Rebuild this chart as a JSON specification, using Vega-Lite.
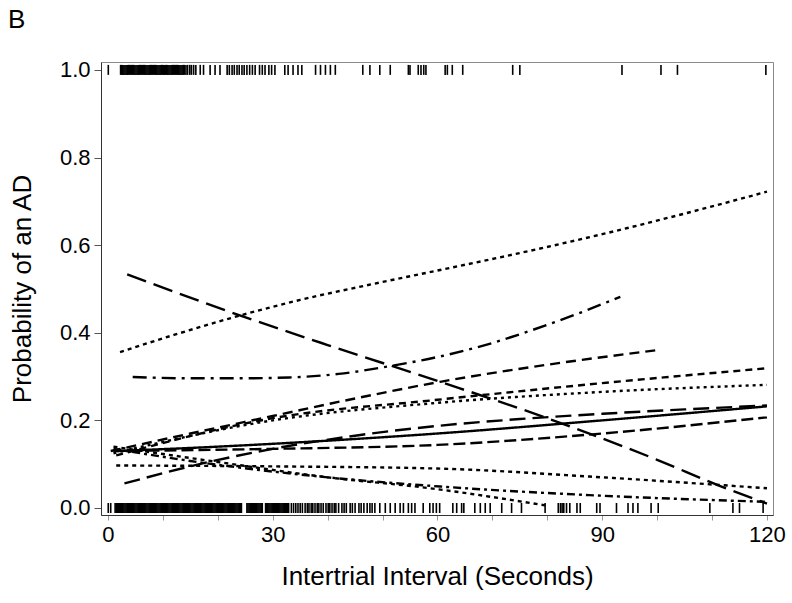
{
  "$schema": "https://vega.github.io/schema/vega-lite/v6.json",
  "autosize": {"type": "none"},
  "padding": {"left": 101, "top": 62, "right": 19, "bottom": 88},
  "width": 672,
  "height": 453,
  "background": "white",
  "config": {
    "view": {"stroke": "#8a8a8a", "strokeWidth": 1},
    "font": "Liberation Sans"
  },
  "title": {"text": "B", "anchor": "start", "frame": "group", "dx": -93, "offset": 26, "fontSize": 26, "fontWeight": "normal", "font": "Liberation Sans", "color": "black"},
  "datasets": {
    "rugBottom": [
      {"t":0.05},{"t":0.5},
      {"t":1.3},{"t":1.5},{"t":1.7},{"t":1.9},{"t":2.1},{"t":2.3},{"t":2.5},{"t":2.7},{"t":2.9},{"t":3.1},{"t":3.3},{"t":3.5},{"t":3.7},{"t":3.9},{"t":4.1},{"t":4.3},{"t":4.5},{"t":4.7},{"t":4.9},{"t":5.1},{"t":5.3},{"t":5.5},{"t":5.7},{"t":5.9},{"t":6.1},{"t":6.3},{"t":6.5},{"t":6.7},{"t":6.9},{"t":7.1},{"t":7.3},{"t":7.5},{"t":7.7},{"t":7.9},{"t":8.1},{"t":8.3},{"t":8.5},{"t":8.7},{"t":8.9},{"t":9.1},{"t":9.3},{"t":9.5},{"t":9.7},{"t":9.9},{"t":10.1},{"t":10.3},{"t":10.5},{"t":10.7},{"t":10.9},{"t":11.1},{"t":11.3},{"t":11.5},{"t":11.7},{"t":11.9},{"t":12.1},{"t":12.3},{"t":12.5},{"t":12.7},{"t":12.9},{"t":13.1},{"t":13.3},{"t":13.5},{"t":13.7},{"t":13.9},{"t":14.1},{"t":14.3},{"t":14.5},{"t":14.7},{"t":14.9},{"t":15.1},{"t":15.3},{"t":15.5},{"t":15.7},{"t":15.9},{"t":16.1},{"t":16.3},{"t":16.5},{"t":16.7},{"t":16.9},{"t":17.1},{"t":17.3},{"t":17.5},{"t":17.7},{"t":17.9},{"t":18.1},{"t":18.3},{"t":18.5},{"t":18.7},{"t":18.9},{"t":19.1},{"t":19.3},{"t":19.5},{"t":19.7},{"t":19.9},{"t":20.1},{"t":20.3},{"t":20.5},{"t":20.7},{"t":20.9},{"t":21.1},{"t":21.3},{"t":21.5},{"t":21.7},{"t":21.9},{"t":22.1},{"t":22.3},{"t":22.5},{"t":22.7},{"t":22.9},{"t":23.1},{"t":23.3},{"t":23.5},{"t":23.7},{"t":23.9},{"t":24.1},{"t":24.3},
      {"t":25.3},{"t":25.5},{"t":25.7},{"t":25.9},{"t":26.1},{"t":26.3},{"t":26.5},{"t":26.7},{"t":26.9},{"t":27.1},{"t":27.3},{"t":27.5},{"t":27.7},{"t":27.9},{"t":28.1},
      {"t":28.7},{"t":28.9},{"t":29.1},{"t":29.3},{"t":29.5},{"t":29.7},{"t":29.9},{"t":30.1},{"t":30.3},{"t":30.5},{"t":30.7},{"t":30.9},{"t":31.1},{"t":31.3},{"t":31.5},{"t":31.7},{"t":31.9},{"t":32.1},{"t":32.3},{"t":32.5},{"t":32.7},{"t":32.9},
      {"t":33.4},{"t":33.8},{"t":34.2},{"t":34.6},{"t":35.0},{"t":35.4},{"t":35.9},{"t":36.3},{"t":36.6},{"t":37.0},{"t":37.3},{"t":37.7},{"t":38.1},{"t":38.4},{"t":38.8},{"t":39.2},{"t":39.7},{"t":40.1},{"t":40.4},{"t":40.8},{"t":41.2},{"t":41.5},{"t":42.0},{"t":42.6},{"t":43.0},{"t":43.4},{"t":44.1},{"t":44.5},{"t":45.0},{"t":45.7},{"t":46.1},{"t":46.6},{"t":47.2},{"t":47.7},{"t":48.1},
      {"t":48.6},{"t":49.5},{"t":50.5},{"t":51.4},{"t":52.3},{"t":53.2},{"t":53.8},{"t":54.7},{"t":55.3},{"t":55.9},{"t":57.4},{"t":58.6},{"t":59.2},{"t":59.8},{"t":60.4},{"t":62.8},{"t":63.5},{"t":64.4},{"t":64.8},{"t":66.8},{"t":67.8},{"t":68.7},{"t":69.6},{"t":71.7},{"t":73.5},{"t":75.3},{"t":79.6},{"t":82.0},{"t":82.4},{"t":82.7},{"t":83.0},{"t":83.5},{"t":84.1},{"t":85.4},{"t":86.0},{"t":89.0},{"t":89.6},{"t":92.6},{"t":94.7},{"t":95.6},{"t":96.5},{"t":98.9},{"t":100.2},{"t":109.6},{"t":113.8},{"t":115.0},{"t":119.3}
    ],
    "rugTop": [
      {"t":0.06},
      {"t":2.3},{"t":2.5},{"t":2.7},{"t":2.9},{"t":3.1},{"t":3.3},{"t":3.5},{"t":3.7},{"t":3.9},{"t":4.1},{"t":4.3},{"t":4.5},{"t":4.7},{"t":4.9},{"t":5.1},{"t":5.3},{"t":5.5},{"t":5.7},{"t":5.9},{"t":6.1},{"t":6.3},{"t":6.5},{"t":6.7},{"t":6.9},{"t":7.1},{"t":7.3},{"t":7.5},{"t":7.7},{"t":7.9},{"t":8.1},{"t":8.3},{"t":8.5},{"t":8.7},{"t":8.9},{"t":9.1},{"t":9.3},{"t":9.5},{"t":9.7},{"t":9.9},{"t":10.1},{"t":10.3},{"t":10.5},{"t":10.7},{"t":10.9},{"t":11.1},{"t":11.3},{"t":11.5},{"t":11.7},{"t":11.9},{"t":12.1},{"t":12.3},{"t":12.5},{"t":12.7},{"t":12.9},{"t":13.1},{"t":13.3},{"t":13.5},{"t":13.7},
      {"t":13.9},{"t":14.2},{"t":14.5},{"t":14.9},{"t":15.2},{"t":15.6},{"t":16.0},
      {"t":16.8},{"t":17.4},{"t":18.6},{"t":19.5},{"t":20.4},
      {"t":21.7},{"t":22.1},{"t":22.6},{"t":23.0},{"t":23.5},{"t":23.9},{"t":24.4},{"t":24.8},{"t":25.3},{"t":25.8},{"t":26.3},{"t":26.8},
      {"t":27.6},{"t":28.1},{"t":28.6},{"t":29.3},{"t":29.8},{"t":30.4},
      {"t":32.2},{"t":32.8},{"t":33.7},{"t":34.6},{"t":35.3},
      {"t":37.8},{"t":38.7},{"t":39.6},{"t":40.5},{"t":41.4},
      {"t":46.4},{"t":47.7},{"t":49.5},{"t":51.4},
      {"t":54.7},{"t":55.0},{"t":56.5},{"t":57.0},{"t":57.5},{"t":57.9},{"t":61.4},{"t":61.8},{"t":62.7},{"t":64.6},{"t":73.7},{"t":75.0},{"t":93.6},{"t":100.7},{"t":103.7},{"t":119.8}
    ],
    "curves": [
      {"id":"A","t":2.2,"p":0.356},{"id":"A","t":12,"p":0.395},{"id":"A","t":22.8,"p":0.435},{"id":"A","t":35,"p":0.475},{"id":"A","t":47,"p":0.508},{"id":"A","t":60,"p":0.542},{"id":"A","t":75,"p":0.582},{"id":"A","t":90,"p":0.625},{"id":"A","t":105,"p":0.672},{"id":"A","t":120,"p":0.722},
      {"id":"B","t":4.5,"p":0.299},{"id":"B","t":15,"p":0.296},{"id":"B","t":24,"p":0.296},{"id":"B","t":33,"p":0.298},{"id":"B","t":42,"p":0.306},{"id":"B","t":51.4,"p":0.324},{"id":"B","t":60.5,"p":0.346},{"id":"B","t":69,"p":0.373},{"id":"B","t":77,"p":0.405},{"id":"B","t":85,"p":0.441},{"id":"B","t":93.3,"p":0.482},
      {"id":"C","t":0.5,"p":0.13},{"id":"C","t":15,"p":0.17},{"id":"C","t":30,"p":0.21},{"id":"C","t":45,"p":0.25},{"id":"C","t":60.5,"p":0.288},{"id":"C","t":80,"p":0.327},{"id":"C","t":100.5,"p":0.361},
      {"id":"D","t":3.5,"p":0.533},{"id":"D","t":22.8,"p":0.445},{"id":"D","t":40,"p":0.372},{"id":"D","t":60,"p":0.29},{"id":"D","t":80,"p":0.205},{"id":"D","t":100,"p":0.11},{"id":"D","t":111.5,"p":0.05},{"id":"D","t":120,"p":0.01},
      {"id":"E","t":1.6,"p":0.13},{"id":"E","t":20,"p":0.14},{"id":"E","t":35,"p":0.15},{"id":"E","t":60,"p":0.17},{"id":"E","t":90,"p":0.2},{"id":"E","t":120,"p":0.232},
      {"id":"F","t":3,"p":0.056},{"id":"F","t":18,"p":0.104},{"id":"F","t":30,"p":0.135},{"id":"F","t":45,"p":0.165},{"id":"F","t":60.5,"p":0.188},{"id":"F","t":75,"p":0.203},{"id":"F","t":90,"p":0.215},{"id":"F","t":105,"p":0.225},{"id":"F","t":120,"p":0.234},
      {"id":"G","t":1,"p":0.13},{"id":"G","t":30,"p":0.135},{"id":"G","t":60,"p":0.144},{"id":"G","t":90,"p":0.17},{"id":"G","t":120,"p":0.207},
      {"id":"H","t":1.5,"p":0.097},{"id":"H","t":30,"p":0.095},{"id":"H","t":60,"p":0.09},{"id":"H","t":90,"p":0.07},{"id":"H","t":120,"p":0.045},
      {"id":"I","t":1,"p":0.125},{"id":"I","t":30,"p":0.2},{"id":"I","t":60,"p":0.24},{"id":"I","t":90,"p":0.265},{"id":"I","t":120,"p":0.281},
      {"id":"J","t":1.5,"p":0.12},{"id":"J","t":30,"p":0.205},{"id":"J","t":60,"p":0.247},{"id":"J","t":90,"p":0.285},{"id":"J","t":120,"p":0.319},
      {"id":"K","t":1,"p":0.135},{"id":"K","t":18,"p":0.102},{"id":"K","t":40,"p":0.07},{"id":"K","t":60.5,"p":0.049},{"id":"K","t":90,"p":0.028},{"id":"K","t":120,"p":0.014},
      {"id":"L","t":1,"p":0.14},{"id":"L","t":20,"p":0.105},{"id":"L","t":40,"p":0.07},{"id":"L","t":58.7,"p":0.045},{"id":"L","t":79.6,"p":0.006}
    ]
  },
  "layer": [
    {
      "data": {"name": "rugBottom"},
      "mark": {"type": "tick", "orient": "vertical", "color": "black", "thickness": 1.6, "size": 10, "opacity": 1},
      "encoding": {
        "x": {
          "field": "t", "type": "quantitative",
          "scale": {"domain": [-1.27, 121.1], "nice": false, "zero": false},
          "axis": {
            "title": "Intertrial Interval (Seconds)",
            "values": [0, 10, 20, 30, 40, 50, 60, 70, 80, 90, 100, 110, 120],
            "labelExpr": "datum.value % 30 === 0 ? datum.label : ''",
            "labelOverlap": false,
            "format": "d",
            "grid": false,
            "domainColor": "#333333",
            "tickColor": "#999999",
            "tickSize": 5,
            "labelFontSize": 22,
            "labelColor": "black",
            "labelPadding": 4,
            "labelFont": "Liberation Sans",
            "titleFont": "Liberation Sans",
            "titleFontSize": 26,
            "titleFontWeight": "normal",
            "titleColor": "black",
            "titlePadding": 18
          }
        },
        "y": {
          "datum": 0, "type": "quantitative",
          "scale": {"domain": [-0.016, 1.018], "nice": false, "zero": false},
          "axis": {
            "title": "Probability of an AD",
            "values": [0, 0.2, 0.4, 0.6, 0.8, 1.0],
            "format": ".1f",
            "labelOverlap": false,
            "grid": false,
            "domainColor": "#333333",
            "tickColor": "#555555",
            "tickSize": 7,
            "labelFontSize": 22,
            "labelColor": "black",
            "labelPadding": 4,
            "labelFont": "Liberation Sans",
            "titleFont": "Liberation Sans",
            "titleFontSize": 26,
            "titleFontWeight": "normal",
            "titleColor": "black",
            "titlePadding": 24
          }
        }
      }
    },
    {
      "data": {"name": "rugTop"},
      "mark": {"type": "tick", "orient": "vertical", "color": "black", "thickness": 1.6, "size": 10, "opacity": 1},
      "encoding": {
        "x": {"field": "t", "type": "quantitative"},
        "y": {"datum": 1, "type": "quantitative"}
      }
    },
    {
      "data": {"name": "curves"},
      "mark": {"type": "line", "color": "black", "strokeWidth": 2.4, "interpolate": "monotone"},
      "encoding": {
        "x": {"field": "t", "type": "quantitative"},
        "y": {"field": "p", "type": "quantitative"},
        "strokeDash": {
          "field": "id", "type": "nominal",
          "scale": {
            "domain": ["A", "B", "C", "D", "E", "F", "G", "H", "I", "J", "K", "L"],
            "range": [[4, 4], [14, 6, 3, 6], [10, 6], [20, 8], [1, 0], [16, 7], [12, 5], [4, 4], [3, 4], [7, 5], [8, 4, 3, 4], [4, 4]]
          },
          "legend": null
        }
      }
    }
  ]
}
